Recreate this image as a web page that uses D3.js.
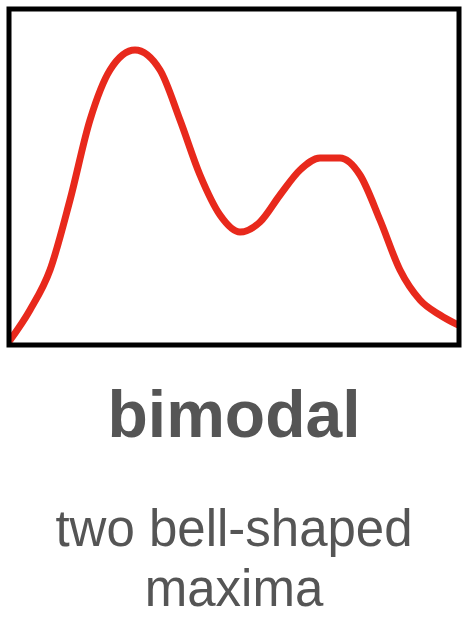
<!DOCTYPE html>
<html lang="en">
<head>
<meta charset="UTF-8">
<script src="https://cdnjs.cloudflare.com/ajax/libs/d3/7.8.5/d3.min.js"></script>
<style>
  body{ margin:0; background:#fff; font-family:"Helvetica Neue", "Liberation Sans", Arial, sans-serif; }
</style>
</head>
<body>
<svg width="468" height="629"></svg>
<script>
// curve samples: x position, density
const xs = [0, 22, 42, 62, 82, 102, 127, 152, 172, 192, 212, 232, 252, 272, 292, 312, 332, 352, 372, 392, 412, 432, 450];
const ys = [0, 33, 73, 143, 223, 273, 293, 273, 223, 168, 128, 111, 121, 148, 173, 185, 185, 168, 123, 73, 43, 28, 18];
const title = "bimodal";
const subtitle = ["two bell-shaped", "maxima"];

const svg = d3.select("svg");
const x = d3.scaleLinear().domain([0, 450]).range([8, 458]);
const y = d3.scaleLinear().domain([0, 300]).range([343, 43]);

const line = d3.line()
    .x((d, i) => x(xs[i]))
    .y(d => y(d))
    .curve(d3.curveMonotoneX);

svg.append("defs").append("clipPath").attr("id", "box")
    .append("rect").attr("x", 10).attr("y", 10).attr("width", 448).attr("height", 334);

svg.append("path")
    .datum(ys)
    .attr("d", line)
    .attr("fill", "none")
    .attr("stroke", "#e8291c")
    .attr("stroke-width", 7)
    .attr("stroke-linecap", "round")
    .attr("clip-path", "url(#box)");

svg.append("rect")
    .attr("x", 9).attr("y", 9).attr("width", 450).attr("height", 336)
    .attr("fill", "none").attr("stroke", "#000").attr("stroke-width", 5);

svg.append("text")
    .attr("x", 234).attr("y", 437)
    .attr("text-anchor", "middle")
    .attr("font-size", 66).attr("font-weight", "bold")
    .attr("fill", "#555")
    .text(title);

svg.selectAll(".sub").data(subtitle).enter().append("text")
    .attr("class", "sub")
    .attr("x", 234).attr("y", (d, i) => 546 + i * 60)
    .attr("text-anchor", "middle")
    .attr("font-size", 51)
    .attr("fill", "#555")
    .text(d => d);
</script>
</body>
</html>
